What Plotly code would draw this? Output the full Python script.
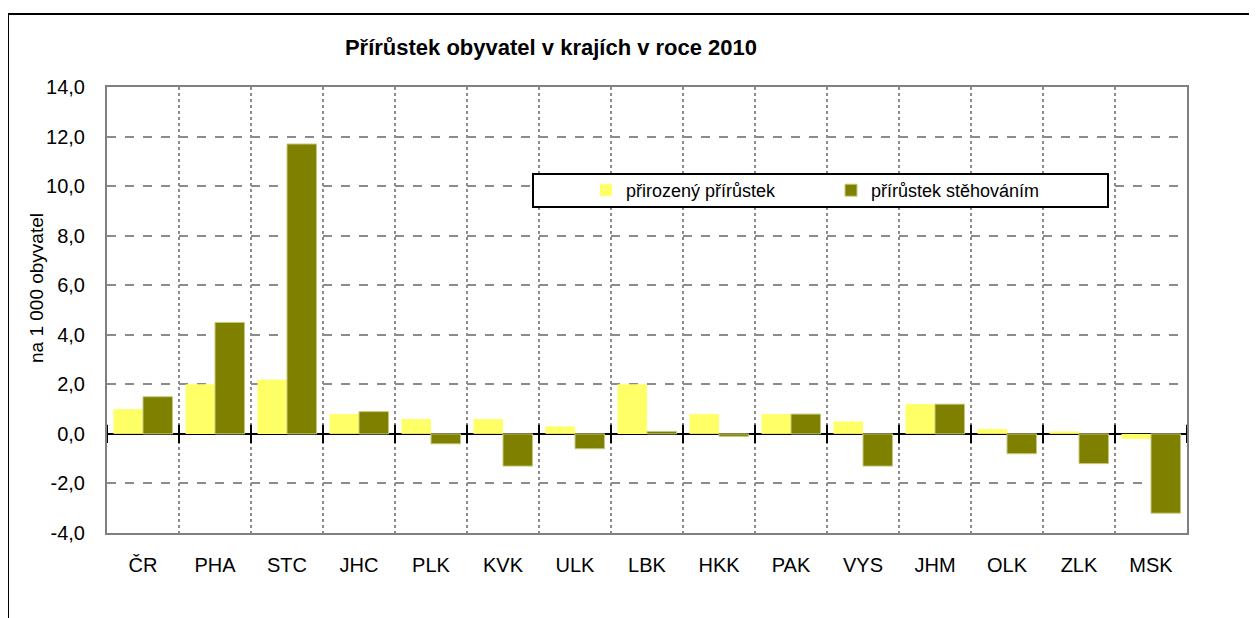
import plotly.graph_objects as go

categories = ["ČR", "PHA", "STC", "JHC", "PLK", "KVK", "ULK", "LBK", "HKK", "PAK", "VYS", "JHM", "OLK", "ZLK", "MSK"]
prirozeny = [1.0, 2.0, 2.2, 0.8, 0.6, 0.6, 0.3, 2.0, 0.8, 0.8, 0.5, 1.2, 0.2, 0.1, -0.2]
stehovani = [1.5, 4.5, 11.7, 0.9, -0.4, -1.3, -0.6, 0.1, -0.1, 0.8, -1.3, 1.2, -0.8, -1.2, -3.2]
series_names = ["přirozený přírůstek", "přírůstek stěhováním"]
title_text = "Přírůstek obyvatel v krajích v roce 2010"
y_title = "na 1 000 obyvatel"
y_ticks = [-4, -2, 0, 2, 4, 6, 8, 10, 12, 14]
y_ticktext = [f"{v:.1f}".replace(".", ",") for v in y_ticks]

FONT = "Liberation Sans, Arial, sans-serif"
idx = list(range(len(categories)))
bounds = [i - 0.5 for i in range(len(categories) + 1)]

fig = go.Figure()
fig.add_trace(go.Bar(x=idx, y=prirozeny, name=series_names[0],
                     marker=dict(color="#FFFF66", line=dict(width=0))))
fig.add_trace(go.Bar(x=idx, y=stehovani, name=series_names[1],
                     marker=dict(color="#808000", line=dict(width=1, color="#C8C880"))))
# tick marks crossing the zero line at category boundaries
fig.add_trace(go.Scatter(x=bounds, y=[0] * len(bounds), mode="markers", showlegend=False,
                         hoverinfo="skip",
                         marker=dict(symbol="line-ns", size=13, line=dict(width=2, color="black"))))

OFF = 8  # page body margin
W, H = 1257 - OFF, 618 - OFF
# plot area on screen: x 107..1187, y 87..533
L, T = 107 - OFF, 87 - OFF
R, B = W - (1187 - OFF), H - (533 - OFF)
pw, ph = W - L - R, H - T - B

def px(sx):
    return (sx - OFF - L) / pw

def py(sy):
    return (H - B - (sy - OFF)) / ph

fig.update_layout(
    width=W, height=H,
    margin=dict(l=L, r=R, t=T, b=B),
    paper_bgcolor="white", plot_bgcolor="white",
    font=dict(family=FONT, size=20, color="black"),
    barmode="group", bargap=0.18, bargroupgap=0,
    title=dict(text="<b>" + title_text + "</b>", x=px(551), xref="paper", xanchor="center",
               y=1 - (47 - OFF) / H, yref="container", yanchor="middle",
               font=dict(family=FONT, size=22, color="black")),
    showlegend=True,
    legend=dict(orientation="h", x=px(586), y=py(190.5), xanchor="left", yanchor="middle",
                bgcolor="rgba(0,0,0,0)", borderwidth=0, entrywidth=200,
                font=dict(family=FONT, size=18), traceorder="normal"),
    shapes=[
        dict(type="rect", xref="paper", yref="paper", x0=px(533), x1=px(1108), y0=py(207), y1=py(174),
             line=dict(color="black", width=2), fillcolor="white", layer="above"),
        dict(type="rect", xref="paper", yref="paper", x0=px(8), x1=px(1255), y0=py(640), y1=py(14),
             line=dict(color="black", width=2), fillcolor="rgba(0,0,0,0)", layer="below"),
    ],
    annotations=[
        dict(text=y_title, xref="paper", yref="paper", x=px(36), y=py(288),
             xanchor="center", yanchor="middle", textangle=-90, showarrow=False,
             font=dict(family=FONT, size=19, color="black")),
    ],
)

fig.update_xaxes(
    range=[-0.5, len(categories) - 0.5],
    tickmode="array", tickvals=idx, ticktext=categories,
    showgrid=False, ticks="", ticklabelstandoff=13,
    tickfont=dict(family=FONT, size=20),
    showline=True, linecolor="#808080", linewidth=2, mirror=True,
    zeroline=False,
    minor=dict(tickmode="array", tickvals=bounds, showgrid=True, gridcolor="#8c8c8c",
               griddash="dot", gridwidth=1.5, ticks=""),
)
fig.update_yaxes(
    range=[-4, 14], tickmode="array", tickvals=y_ticks, ticktext=y_ticktext,
    showgrid=True, gridcolor="#8c8c8c", griddash="dash", gridwidth=1.5,
    zeroline=True, zerolinecolor="black", zerolinewidth=2,
    showline=True, linecolor="#808080", linewidth=2, mirror=True,
    ticks="", ticklabelstandoff=16,
    tickfont=dict(family=FONT, size=20),
)

fig.write_html("out.html")
